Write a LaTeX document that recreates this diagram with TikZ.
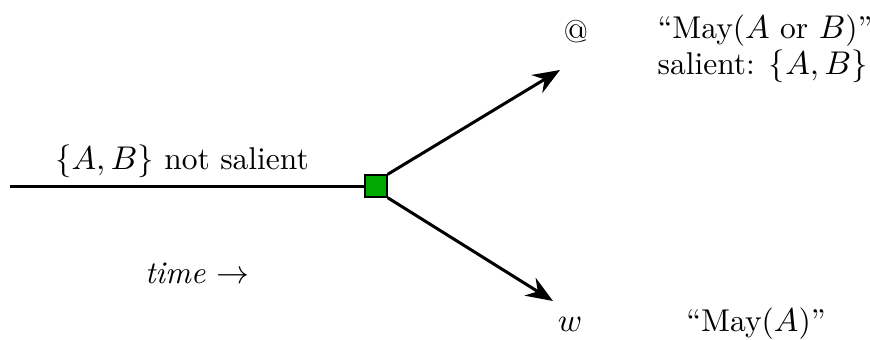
\documentclass[tikz,border=0pt]{standalone}
\usetikzlibrary{arrows.meta}
\definecolor{boxgreen}{RGB}{0,170,0}
\tikzset{
  branch/.style={line width=1pt,-{Stealth[length=9pt,width=7pt,inset=3pt]}},
  timeline/.style={line width=1pt},
  lbl/.style={inner sep=0pt,font=\fontsize{10.5pt}{10.8pt}\selectfont},
  nowbox/.style={draw=black,fill=boxgreen,minimum size=7.3pt,inner sep=0pt,line width=0.5pt}
}
\begin{document}
\begin{tikzpicture}[x=0.3333pt,y=-0.3333pt]
\useasboundingbox (0,0) rectangle (870,339);
\coordinate (start) at (10,186);
\node[nowbox] (now) at (376,186) {};
\coordinate (up) at (560,70);
\coordinate (down) at (553,301);
\draw[timeline] (start) -- (now.west);
\draw[branch] (now.north east) -- (up);
\draw[branch] (now.south east) -- (down);
\node[lbl] (at) at (576,32) {@};
\node[lbl,anchor=west,align=left] (topt) at (657,49) {``May($A$ or $B$)''\\salient: $\{A,B\}$};
\node[lbl] (w) at (570,324) {$w$};
\node[lbl] (bott) at (756,324) {``May($A$)''};
\node[lbl] (ns) at (182,161) {$\{A,B\}$ not salient};
\node[lbl] (time) at (197,273) {\textit{time} $\rightarrow$};
\end{tikzpicture}
\end{document}
